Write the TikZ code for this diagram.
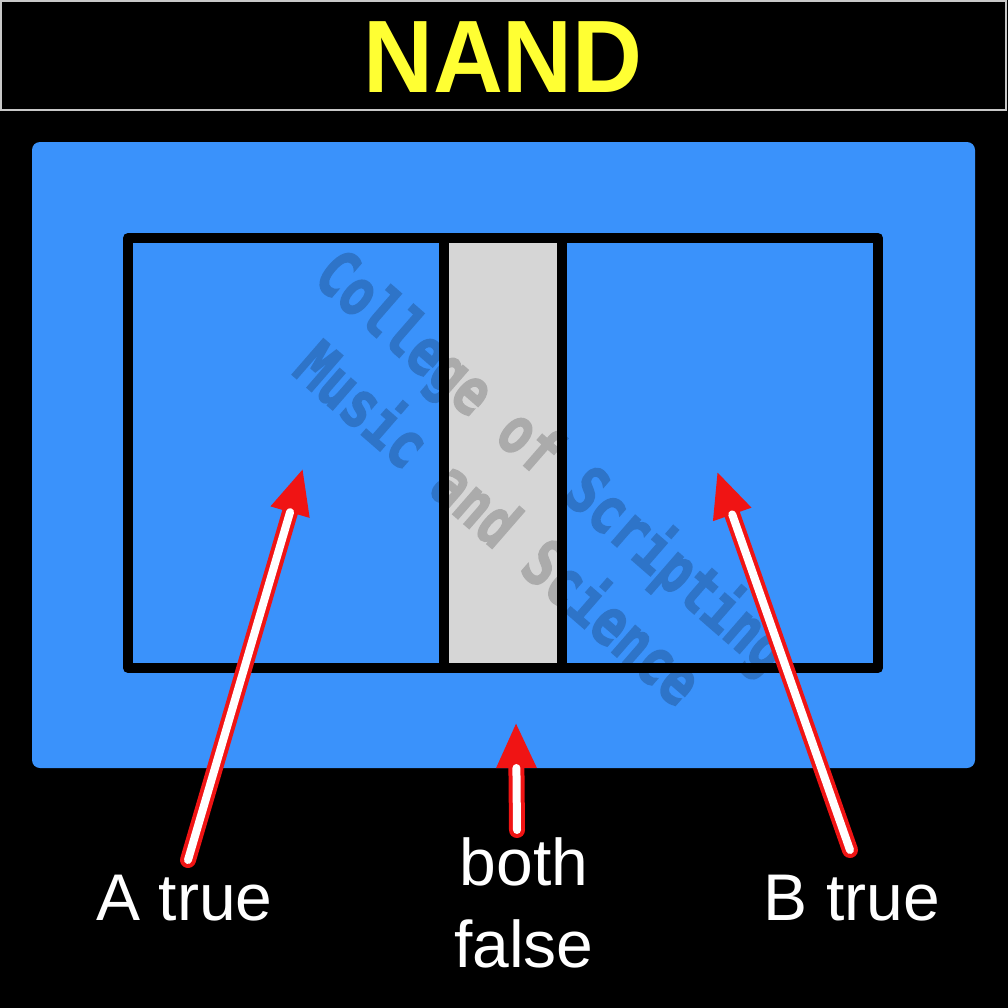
\documentclass[tikz,border=0pt]{standalone}
\usepackage{fontspec}
\setmainfont{Liberation Sans}
\newfontfamily\wmfont[FakeBold=2.5]{DejaVu Sans Mono Bold}
\usetikzlibrary{arrows.meta}
\definecolor{bgblue}{RGB}{58,146,251}
\definecolor{midgray}{RGB}{214,214,214}
\definecolor{titleyellow}{RGB}{255,255,51}
\definecolor{arrowred}{RGB}{240,20,20}
\definecolor{barborder}{RGB}{200,200,200}
\begin{document}
\begin{tikzpicture}[x=0.5pt,y=-0.5pt,
  setbox/.style={draw=black,line width=5pt,line join=round},
  redshaft/.style={draw=arrowred,line width=8pt,line cap=round,-{Triangle[length=23pt,width=18.5pt]}},
  whitecore/.style={draw=white,line width=4pt,line cap=round,shorten >=23pt},
  lbl/.style={text=white,font=\fontsize{33}{40}\selectfont,inner sep=0pt,anchor=base}]
\useasboundingbox (0,0) rectangle (1008,1008);
\fill[black] (0,0) rectangle (1008,1008);
% title bar
\draw[barborder,line width=1pt,fill=black] (1,1) rectangle (1006,110);
\node[text=titleyellow,font=\bfseries\fontsize{51.5}{60}\selectfont,inner sep=0pt,anchor=base,xscale=0.94] (title) at (503,92) {NAND};
% universe
\fill[bgblue,rounded corners=4pt] (32,142) rectangle (975,768);
% overlap
\fill[midgray] (444,238) rectangle (562,668);
% sets
\draw[setbox] (128,238) rectangle (562,668);
\draw[setbox] (444,238) rectangle (878,668);
% watermark
\begin{scope}[transparency group,opacity=0.2]
\node[rotate=-41,yscale=1.3,text=black,align=center,inner sep=0pt,
  font=\wmfont\fontsize{25}{32}\selectfont] (wm) at (528,490) {College of Scripting\\Music and Science};
\end{scope}
% arrow end points
\coordinate (atail) at (188,860);
\coordinate (atip) at (303,468);
\coordinate (ntail) at (517,830);
\coordinate (ntip) at (516,722);
\coordinate (btail) at (850,850);
\coordinate (btip) at (717,471);
\draw[redshaft] (atail) -- (atip);
\draw[whitecore] (atail) -- (atip);
\draw[redshaft] (ntail) -- (ntip);
\draw[whitecore] (ntail) -- (ntip);
\draw[redshaft] (btail) -- (btip);
\draw[whitecore] (btail) -- (btip);
% labels
\node[lbl] (alabel) at (184.5,920) {A true};
\node[lbl] (bothlabel) at (524,885) {both};
\node[lbl] (falselabel) at (524,967) {false};
\node[lbl] (blabel) at (852,920) {B true};
\end{tikzpicture}
\end{document}
